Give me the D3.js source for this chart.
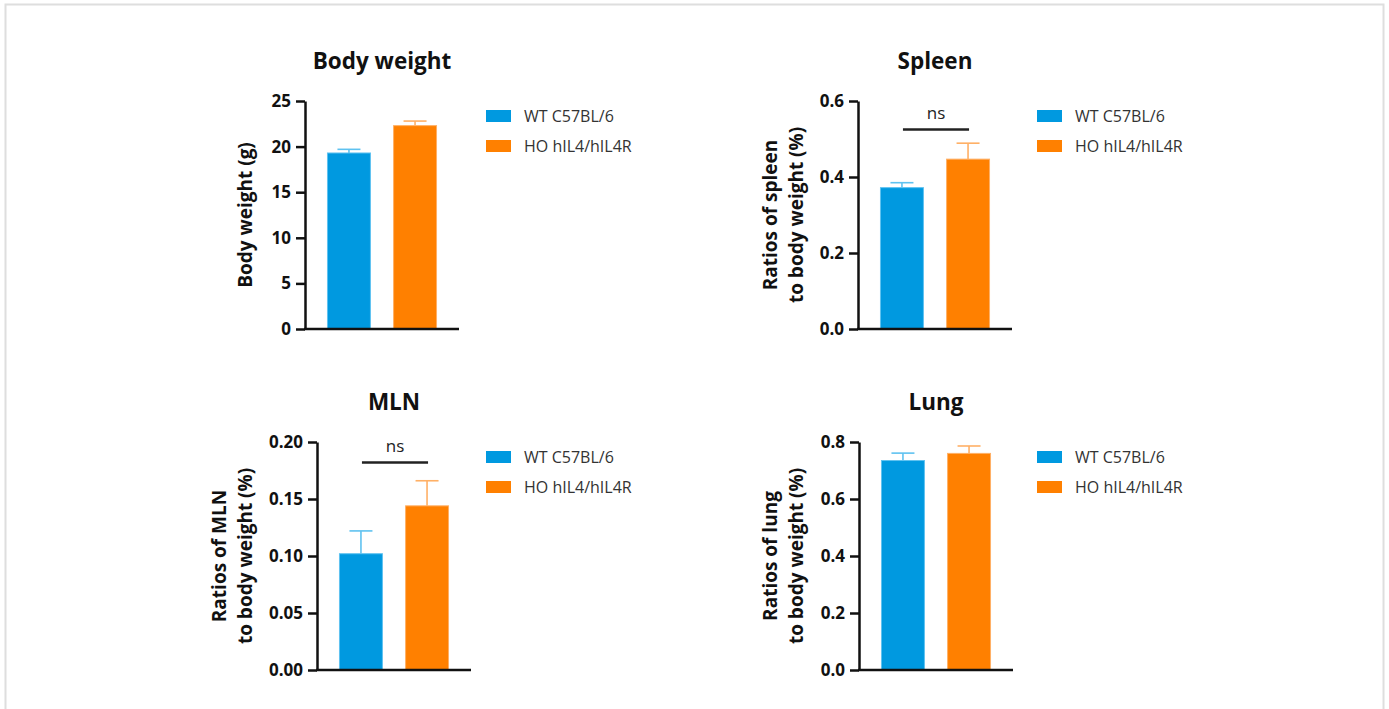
<!DOCTYPE html>
<html>
<head>
<meta charset="utf-8">
<script src="https://cdn.jsdelivr.net/npm/d3@7"></script>
<style>
  body { margin: 0; background: #fff; }
  svg { display: block; font-family: "Open Sans", "Noto Sans", sans-serif; }
</style>
</head>
<body>
<div id="chart"></div>
<script>

// groups shown in every panel
const groups = ["WT C57BL/6", "HO hIL4/hIL4R"];
const barColors = ["#0099e0", "#ff8000"];
const errColors = ["#5fc2f0", "#ffb066"];

// panel titles and axis labels
const titles = ["Body weight", "Spleen", "MLN", "Lung"];
const yLabels = [
    ["Body weight (g)"],
    ["Ratios of spleen", "to body weight (%)"],
    ["Ratios of MLN", "to body weight (%)"],
    ["Ratios of lung", "to body weight (%)"]
];

// means and SEM
const bodyWeightMean = [19.3, 22.3];
const bodyWeightErr = [0.4, 0.5];
const spleenMean = [0.372, 0.447];
const spleenErr = [0.013, 0.042];
const mlnMean = [0.102, 0.144];
const mlnErr = [0.020, 0.022];
const lungMean = [0.735, 0.760];
const lungErr = [0.026, 0.026];

// y axis ticks
const bodyWeightTicks = [0, 5, 10, 15, 20, 25];
const spleenTicks = [0, 0.2, 0.4, 0.6];
const mlnTicks = [0, 0.05, 0.10, 0.15, 0.20];
const lungTicks = [0, 0.2, 0.4, 0.6, 0.8];

// "ns" bracket heights
const spleenNs = 0.525;
const mlnNs = 0.182;

const panels = [
    { title: titles[0], label: yLabels[0], mean: bodyWeightMean, err: bodyWeightErr, ticks: bodyWeightTicks, fmt: d3.format("d"), ns: null },
    { title: titles[1], label: yLabels[1], mean: spleenMean, err: spleenErr, ticks: spleenTicks, fmt: d3.format(".1f"), ns: spleenNs },
    { title: titles[2], label: yLabels[2], mean: mlnMean, err: mlnErr, ticks: mlnTicks, fmt: d3.format(".2f"), ns: mlnNs },
    { title: titles[3], label: yLabels[3], mean: lungMean, err: lungErr, ticks: lungTicks, fmt: d3.format(".1f"), ns: null }
];

// layout for each panel (axis origin, label offset, legend column)
const layout = [
    { x: 305, top: 101, labelX: -60, legendX: 486 },
    { x: 858, top: 101, labelX: -75, legendX: 1037 },
    { x: 317, top: 442, labelX: -85, legendX: 486 },
    { x: 859, top: 442, labelX: -76, legendX: 1037 }
];

const W = 1389, H = 709;
const plotW = 154, plotH = 228;

const svg = d3.select("#chart")
    .append("svg")
    .attr("width", W)
    .attr("height", H);

// light frame
svg.append("rect")
    .attr("x", 5.5)
    .attr("y", 4.5)
    .attr("width", 1378)
    .attr("height", 720)
    .attr("fill", "none")
    .attr("stroke", "#dedede")
    .attr("stroke-width", 2);

panels.forEach(function (p, i) {
    const L = layout[i];
    const g = svg.append("g")
        .attr("transform", "translate(" + L.x + "," + L.top + ")");

    const y = d3.scaleLinear()
        .domain([0, p.ticks[p.ticks.length - 1]])
        .range([plotH, 0]);

    const x = d3.scaleBand()
        .domain(groups)
        .range([0, plotW])
        .paddingInner(0.35)
        .paddingOuter(0.34);

    // bars
    g.selectAll("rect.bar")
        .data(groups)
        .enter()
        .append("rect")
        .attr("class", "bar")
        .attr("x", d => x(d))
        .attr("y", (d, j) => y(p.mean[j]))
        .attr("width", x.bandwidth())
        .attr("height", (d, j) => plotH - y(p.mean[j]))
        .attr("fill", (d, j) => barColors[j])
        .attr("stroke", (d, j) => errColors[j])
        .attr("stroke-width", 1);

    // error bars (upper only)
    const eb = g.selectAll("g.err")
        .data(groups)
        .enter()
        .append("g")
        .attr("class", "err")
        .attr("stroke", (d, j) => errColors[j])
        .attr("stroke-width", 1.6);

    eb.append("line")
        .attr("x1", d => x(d) + x.bandwidth() / 2)
        .attr("x2", d => x(d) + x.bandwidth() / 2)
        .attr("y1", (d, j) => y(p.mean[j]))
        .attr("y2", (d, j) => y(p.mean[j] + p.err[j]));

    eb.append("line")
        .attr("x1", d => x(d) + x.bandwidth() / 2 - 11.5)
        .attr("x2", d => x(d) + x.bandwidth() / 2 + 11.5)
        .attr("y1", (d, j) => y(p.mean[j] + p.err[j]))
        .attr("y2", (d, j) => y(p.mean[j] + p.err[j]));

    // axes
    const yAxis = g.append("g")
        .call(d3.axisLeft(y)
            .tickValues(p.ticks)
            .tickFormat(p.fmt)
            .tickSize(9)
            .tickPadding(5)
            .tickSizeOuter(0))
        .attr("font-family", null)
        .attr("font-size", null);

    yAxis.select(".domain").attr("stroke", "#111").attr("stroke-width", 2.5);
    yAxis.selectAll(".tick line").attr("stroke", "#111").attr("stroke-width", 2.5);
    yAxis.selectAll(".tick text")
        .attr("fill", "#111")
        .style("font-size", "17px")
        .style("font-weight", "bold");

    g.append("line")
        .attr("x1", -1)
        .attr("x2", plotW)
        .attr("y1", plotH)
        .attr("y2", plotH)
        .attr("stroke", "#111")
        .attr("stroke-width", 2.5);

    // title
    g.append("text")
        .attr("x", x(groups[0]) + (x(groups[1]) + x.bandwidth() - x(groups[0])) / 2)
        .attr("y", -32)
        .attr("text-anchor", "middle")
        .attr("fill", "#111")
        .style("font-size", "22.5px")
        .style("font-weight", "bold")
        .text(p.title);

    // y label
    const lab = g.append("text")
        .attr("transform", "translate(" + L.labelX + "," + plotH / 2 + ") rotate(-90)")
        .attr("text-anchor", "middle")
        .attr("fill", "#111")
        .style("font-size", "19px")
        .style("font-weight", "bold");

    const n = p.label.length;
    p.label.forEach(function (t, k) {
        lab.append("tspan")
            .attr("x", 0)
            .attr("y", (k - (n - 1) / 2) * 25.5 + 7)
            .text(t);
    });

    // ns bracket
    if (p.ns !== null) {
        const c0 = x(groups[0]) + x.bandwidth() / 2;
        const c1 = x(groups[1]) + x.bandwidth() / 2;
        g.append("line")
            .attr("x1", c0 + 1)
            .attr("x2", c1 + 1)
            .attr("y1", y(p.ns))
            .attr("y2", y(p.ns))
            .attr("stroke", "#222")
            .attr("stroke-width", 2.5);
        g.append("text")
            .attr("x", (c0 + c1) / 2 + 1)
            .attr("y", y(p.ns) - 11)
            .attr("text-anchor", "middle")
            .attr("fill", "#222")
            .style("font-size", "17px")
            .text("ns");
    }

    // legend
    const leg = svg.append("g")
        .attr("transform", "translate(" + L.legendX + "," + (L.top + 15) + ")");

    const row = leg.selectAll("g")
        .data(groups)
        .enter()
        .append("g")
        .attr("transform", (d, j) => "translate(0," + j * 30 + ")");

    row.append("rect")
        .attr("x", 0)
        .attr("y", -6)
        .attr("width", 25)
        .attr("height", 12)
        .attr("fill", (d, j) => barColors[j]);

    row.append("text")
        .attr("x", 38)
        .attr("y", 6)
        .attr("fill", "#333")
        .style("font-size", "16px")
        .text(d => d);
});

</script>
</body>
</html>
